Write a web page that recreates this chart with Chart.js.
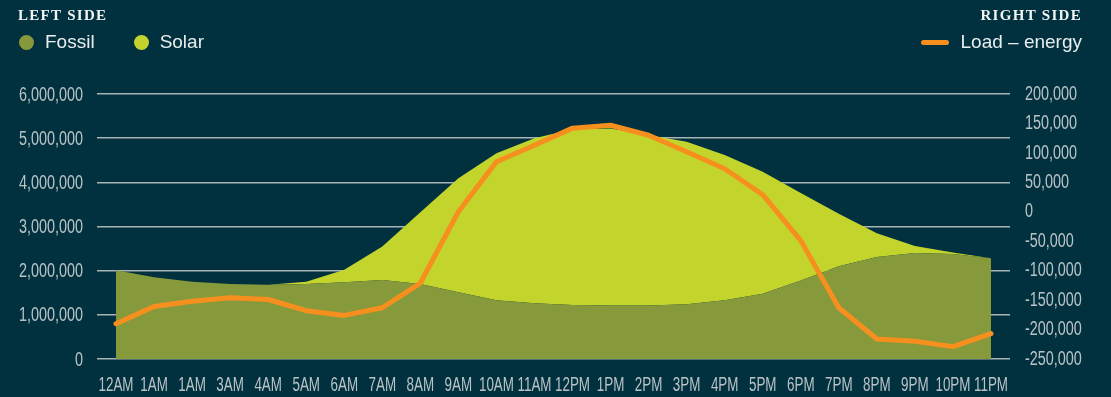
<!DOCTYPE html>
<html>
<head>
<meta charset="utf-8">
<script src="https://cdn.jsdelivr.net/npm/chart.js@4.4.1/dist/chart.umd.min.js"></script>
<style>
  html, body { margin: 0; padding: 0; background: #01313f; }
  #wrap { position: relative; width: 1111px; height: 397px; background: #01313f; overflow: hidden; }
  #chart { position: absolute; left: 0; top: 0; }
  .side { position: absolute; top: 6px; font-family: "Liberation Serif", "DejaVu Serif", serif;
          font-weight: bold; font-size: 15px; letter-spacing: 1.3px; color: #f2f4f4; line-height: 18px; }
  .legend { position: absolute; top: 30px; height: 24px; display: flex; align-items: center;
            font-family: "Liberation Sans", Arial, sans-serif; font-size: 19px; color: #e9eded; }
  .item { display: flex; align-items: center; }
  .dot { width: 15px; height: 15px; border-radius: 50%; margin-right: 11px; }
  .bar { width: 28px; height: 5px; border-radius: 3px; margin-right: 12px; }
</style>
</head>
<body>
<div id="wrap">
  <canvas id="chart" width="1111" height="397"></canvas>
  <div class="side" style="left:18px;">LEFT SIDE</div>
  <div class="side" style="right:29px;">RIGHT SIDE</div>
  <div class="legend" id="legendLeft" style="left:19px;"></div>
  <div class="legend" id="legendRight" style="right:29px;"></div>
</div>
<script>
// Hour labels along the bottom axis
const hours = ['12AM','1AM','1AM','3AM','4AM','5AM','6AM','7AM','8AM','9AM','10AM','11AM',
               '12PM','1PM','2PM','3PM','4PM','5PM','6PM','7PM','8PM','9PM','10PM','11PM'];

// Generation by source (left axis, stacked)
const fossil = [2010000,1850000,1750000,1700000,1680000,1700000,1740000,1790000,1700000,1510000,1330000,1260000,
                1220000,1210000,1210000,1240000,1330000,1480000,1780000,2100000,2310000,2400000,2380000,2280000];
const solar  = [0,0,0,0,0,50000,280000,760000,1620000,2580000,3330000,3740000,
                3980000,4010000,3860000,3680000,3290000,2760000,1980000,1190000,540000,160000,30000,0];

// Load energy (right axis)
const loadEnergy = [-190000,-161000,-152000,-146000,-149000,-168000,-176000,-163000,-121000,0,85000,113000,
                    142000,147000,130000,102000,73000,29000,-49000,-163000,-216000,-220000,-229000,-207000];

// Axis ranges and tick steps
const leftTicks  = { min: 0, max: 6000000, step: 1000000 };
const rightTicks = { min: -250000, max: 200000, step: 50000 };

const COLORS = { fossil: '#869a3c', solar: '#c3d42d', load: '#f78f1f',
                 grid: '#a9b2b5', tick: '#b9c3c6' };

const tickFont = { family: "'Liberation Sans', Arial, sans-serif", size: 20 };
// horizontal squeeze for the condensed tick lettering
const CONDENSE_X = 0.67;
const CONDENSE_Y = 0.72;
const fmt = v => Number(v).toLocaleString('en-US');

const datasets = [
  { label: 'Load \u2013 energy', data: loadEnergy, yAxisID: 'y1', borderColor: COLORS.load,
    backgroundColor: COLORS.load, borderWidth: 5, pointRadius: 0, tension: 0, fill: false,
    borderJoinStyle: 'round', borderCapStyle: 'round', side: 'right' },
  { label: 'Fossil', data: fossil, yAxisID: 'y', borderWidth: 0, borderColor: COLORS.fossil,
    backgroundColor: COLORS.fossil, pointRadius: 0, tension: 0, fill: 'origin', side: 'left' },
  { label: 'Solar', data: solar, yAxisID: 'y', borderWidth: 0, borderColor: COLORS.solar,
    backgroundColor: COLORS.solar, pointRadius: 0, tension: 0, fill: '-1', side: 'left' }
];

// Draws the tick labels of every scale in a condensed face, at the scale's own tick positions
const condensedTicks = {
  id: 'condensedTicks',
  afterDraw(chart) {
    const ctx = chart.ctx;
    const area = chart.chartArea;
    ctx.save();
    ctx.setTransform(1, 0, 0, 1, 0, 0);
    ctx.fillStyle = COLORS.tick;
    ctx.font = `${tickFont.size}px ${tickFont.family}`;
    ctx.textBaseline = 'alphabetic';
    const capHalf = tickFont.size * 0.358;
    const put = (text, x, y, align, squeeze) => {
      ctx.textAlign = align;
      const w = ctx.measureText(text).width;
      ctx.fillText(text, x, y, w * squeeze);
    };
    const xs = chart.scales.x;
    xs.ticks.forEach((t, i) => put(String(xs.getLabelForValue(t.value)), xs.getPixelForTick(i), area.bottom + 25 + capHalf, 'center', CONDENSE_X));
    const yl = chart.scales.y;
    yl.ticks.forEach((t, i) => put(t.label, area.left - 14, yl.getPixelForTick(i) + capHalf - 0.5, 'right', CONDENSE_Y));
    const yr = chart.scales.y1;
    yr.ticks.forEach((t, i) => put(t.label, area.right + 15, yr.getPixelForTick(i) + capHalf - 1.5, 'left', CONDENSE_Y));
    ctx.restore();
  }
};

new Chart(document.getElementById('chart'), {
  type: 'line',
  data: { labels: hours, datasets },
  plugins: [condensedTicks],
  options: {
    responsive: false,
    devicePixelRatio: 1,
    animation: false,
    layout: { padding: { top: 94, left: 0, right: 0, bottom: 0 } },
    plugins: { legend: { display: false }, tooltip: { enabled: false } },
    scales: {
      x: {
        offset: true,
        grid: { display: false, drawTicks: false },
        border: { display: false },
        ticks: { color: 'rgba(0,0,0,0)', font: { size: 12 }, padding: 13, autoSkip: false, maxRotation: 0 },
        afterFit: s => { s.height = 38; }
      },
      y: {
        position: 'left',
        stacked: true,
        min: leftTicks.min, max: leftTicks.max,
        grid: { color: COLORS.grid, lineWidth: 1.5, drawTicks: false },
        border: { display: false },
        ticks: { stepSize: leftTicks.step, color: 'rgba(0,0,0,0)', font: { size: 12 }, padding: 14, callback: fmt },
        afterFit: s => { s.width = 97; }
      },
      y1: {
        position: 'right',
        stacked: false,
        min: rightTicks.min, max: rightTicks.max,
        grid: { display: false, drawTicks: false },
        border: { display: false },
        ticks: { stepSize: rightTicks.step, color: 'rgba(0,0,0,0)', font: { size: 12 }, padding: 15, callback: fmt },
        afterFit: s => { s.width = 101; }
      }
    }
  }
});

// Legends for each side, built from the dataset list
function buildLegend(el, side) {
  const items = datasets.filter(d => d.side === side);
  if (side === 'left') items.sort((a, b) => (a.label === 'Fossil' ? -1 : 1));
  items.forEach((d, i) => {
    const it = document.createElement('div');
    it.className = 'item';
    if (side === 'left' && i > 0) it.style.marginLeft = '39px';
    const sw = document.createElement('span');
    sw.className = d.fill === false ? 'bar' : 'dot';
    sw.style.background = d.backgroundColor;
    const tx = document.createElement('span');
    tx.textContent = d.label;
    it.appendChild(sw); it.appendChild(tx);
    el.appendChild(it);
  });
}
buildLegend(document.getElementById('legendLeft'), 'left');
buildLegend(document.getElementById('legendRight'), 'right');
</script>
</body>
</html>
